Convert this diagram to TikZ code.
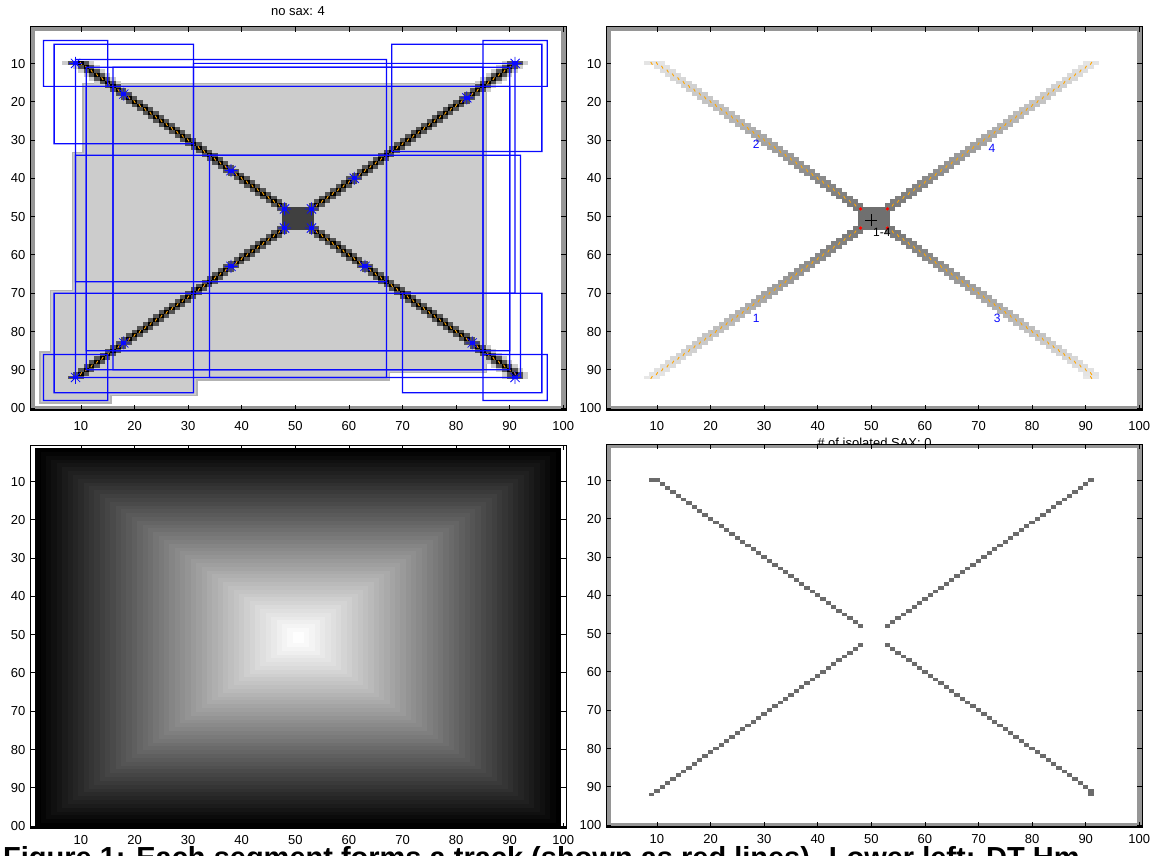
\documentclass[tikz,border=0pt]{standalone}
\usepackage{fontspec}
\setmainfont{Liberation Sans}
\definecolor{bandgray}{HTML}{555555}
\definecolor{regiongray}{HTML}{CCCCCC}
\definecolor{regionedge}{HTML}{B3B3B3}
\definecolor{bordergray}{HTML}{969696}
\definecolor{pixgray}{HTML}{6B6B6B}
\definecolor{mblue}{RGB}{10,10,255}
\definecolor{morange}{HTML}{FFA500}
\definecolor{ctrTL}{HTML}{404040}
\definecolor{ctrTR}{HTML}{707070}
\newcommand{\allpix}[1]{%
  \def\dd{1}\def\xc{9}\def\yr{10}#1%
  \foreach \yr in {10,...,48}{\let\xc\yr\def\dd{1}#1}%
  \foreach \yr in {10,...,48}{\pgfmathtruncatemacro{\xc}{101-\yr}\def\dd{-1}#1}%
  \foreach \yr in {53,...,92}{\pgfmathtruncatemacro{\xc}{101-\yr}\def\dd{-1}#1}%
  \foreach \yr in {53,...,91}{\let\xc\yr\def\dd{1}#1}%
  \def\dd{1}\def\xc{91}\def\yr{92}#1%
}
\newcommand{\axesticks}[3]{%
  \draw[frameline] (0.5,0.5) rectangle (100.5,100.5);
  \draw[line width=2.4pt] (0.5,100.5) -- (100.5,100.5);
  \foreach \k in {10,20,...,100}{
    \draw[tickline] (\k,0.5) -- (\k,1.8);
    \draw[tickline] (\k,100.5) -- (\k,99.2);
    \draw[tickline] (0.5,\k) -- (1.45,\k);
    \draw[tickline] (100.5,\k) -- (99.55,\k);
    \node[xlab, yshift=#3] (#1x\k) at (\k,100.5) {\k};
  }
  \foreach \k in {10,20,...,90}{\node[ylab] (#1y\k) at (0.5,\k) {\k};}
  \node[ylab] (#1y100) at (0.5,100) {#2};
}
\begin{document}
\begin{tikzpicture}[x=1pt,y=-1pt,
  lab/.style={font=\fontsize{13}{13}\selectfont, inner sep=0pt},
  ylab/.style={lab, anchor=base east, xshift=-4.5pt, yshift=-4.7pt},
  xlab/.style={lab, anchor=base},
  tickline/.style={line width=0.8pt},
  frameline/.style={draw=black, line width=1pt},
  omark/.style={draw=morange, line width=0.9pt},
  numlab/.style={font=\fontsize{12}{12}\selectfont, inner sep=0pt, text=mblue}]
\useasboundingbox (0,0) rectangle (1159,856);
\fill[white] (0,0) rectangle (1159,856);

% titles
\node[lab, anchor=base] (title1) at (298,16) {no sax: 4};
\node[lab, anchor=base] (title4) at (874.5,447) {\# of isolated SAX: 0};

% ---------------- top left ----------------
\begin{scope}[xshift=27.32pt,yshift=-25.085pt,x=5.36pt,y=-3.83pt]
  \fill[bordergray] (0.5,0.5) rectangle (100.5,100.5);
  \fill[white] (1.5,1.5) rectangle (99.5,99.5);
  \foreach \ra/\rb/\rc/\rd in {2.5/85.5/15.5/98.5, 4.5/69.5/31.5/96.5, 8.5/33.5/67.5/92.5, 10.5/15.5/85.5/90.5}
    \fill[regionedge] (\ra-0.25,\rb-0.35) rectangle (\rc+0.25,\rd+0.35);
  \foreach \ra/\rb/\rc/\rd in {2.5/85.5/15.5/98.5, 4.5/69.5/31.5/96.5, 8.5/33.5/67.5/92.5, 10.5/15.5/85.5/90.5}
    \fill[regiongray] (\ra,\rb) rectangle (\rc,\rd);
  \allpix{\fill[regiongray] (\xc-2.5,\yr-0.5) rectangle (\xc+2.5,\yr+0.5);}
  \allpix{\fill[bandgray] (\xc-1.5,\yr-0.5) rectangle (\xc+1.5,\yr+0.5);}
  \fill[ctrTL] (47.5,47.5) rectangle (53.5,53.5);
  \allpix{\fill[black] (\xc-0.5,\yr-0.5) rectangle (\xc+0.5,\yr+0.5);}
  \allpix{\draw[omark] (\xc-0.15*\dd,\yr-0.35) -- (\xc+0.15*\dd,\yr+0.35);}
  % blue boxes as filled frames
  \foreach \ra/\rb/\rc/\rd in {3/4/15/16, 85/4/97/16, 3/86/15/98, 85/86/97/98, 5/5/31/31, 68/5/96/33, 5/70/31/96, 70/70/96/96, 9/9/67/67, 31/10/91/70, 9/34/67/92, 34/34/92/92, 11/11/85/85, 16/11/90/85, 11/16/85/90, 16/16/90/90}
    \fill[mblue, even odd rule] (\ra-0.12,\rb-0.16) rectangle (\rc+0.12,\rd+0.16)
                                (\ra+0.12,\rb+0.16) rectangle (\rc-0.12,\rd-0.16);
  \foreach \p/\q in {9/10,18/18,38/38,48/48,91/10,82/19,61/40,53/48,9/92,18/83,38/63,48/53,91/92,83/83,63/63,53/53}{
    \fill[mblue] (\p-0.5,\q-0.5) rectangle (\p+0.5,\q+0.5);
    \draw[mblue, line width=0.8pt]
      (\p,\q) ++(-6.5pt,0pt) -- ++(13pt,0pt)
      (\p,\q) ++(0pt,-6.5pt) -- ++(0pt,13pt)
      (\p,\q) ++(-4.6pt,-4.6pt) -- ++(9.2pt,9.2pt)
      (\p,\q) ++(-4.6pt,4.6pt) -- ++(9.2pt,-9.2pt);
  }
  \axesticks{tl}{00}{-20pt}
\end{scope}

% ---------------- top right ----------------
\begin{scope}[xshift=603.32pt,yshift=-25.085pt,x=5.36pt,y=-3.83pt]
  \fill[bordergray] (0.5,0.5) rectangle (100.5,100.5);
  \fill[white] (1.5,1.5) rectangle (99.5,99.5);
  \allpix{\pgfmathsetmacro{\wl}{46+44*(abs(\yr-50.5)/41)^1.2}\fill[white!\wl!black] (\xc-1.5,\yr-0.5) rectangle (\xc+1.5,\yr+0.5);}
  \fill[ctrTR] (47.5,47.5) rectangle (53.5,53.5);
  \allpix{\draw[omark] (\xc-0.15*\dd,\yr-0.35) -- (\xc+0.15*\dd,\yr+0.35);}
  \foreach \p/\q in {48/48,53/48,48/53,53/53}
    \fill[red] (\p,\q) circle[radius=1.8pt];
  \draw[black, line width=1.2pt] (50,51) ++(-6pt,0pt) -- ++(12pt,0pt) (50,51) ++(0pt,-6pt) -- ++(0pt,12pt);
  \node[lab, font=\fontsize{12}{12}\selectfont, anchor=west] (trc) at (50.3,54.2) {1-4};
  \node[numlab] (tr2) at (28.5,31.2) {2};
  \node[numlab] (tr4) at (72.5,32.3) {4};
  \node[numlab] (tr1) at (28.5,76.5) {1};
  \node[numlab] (tr3) at (73.5,76.5) {3};
  \axesticks{tr}{100}{-20pt}
\end{scope}

% ---------------- bottom left ----------------
\begin{scope}[xshift=27.32pt,yshift=-443.085pt,x=5.36pt,y=-3.83pt]
  \fill[white] (0.5,0.5) rectangle (100.5,100.5);
  \foreach \k in {0,...,48}{
    \pgfmathsetmacro{\wl}{min(100,\k*2.08)}
    \fill[white!\wl!black] (1.5+\k,1.3+\k) rectangle (99.6-\k,100.2-\k);
  }
  \axesticks{bl}{00}{-16pt}
\end{scope}

% ---------------- bottom right ----------------
\begin{scope}[xshift=603.32pt,yshift=-442.085pt,x=5.36pt,y=-3.83pt]
  \fill[bordergray] (0.5,0.5) rectangle (100.5,100.5);
  \fill[white] (1.5,1.5) rectangle (99.5,99.5);
  \allpix{\fill[pixgray] (\xc-0.5,\yr-0.5) rectangle (\xc+0.5,\yr+0.5);}
  \axesticks{br}{100}{-16pt}
\end{scope}

% caption
\node[anchor=base west, inner sep=0pt, font=\fontsize{29}{29}\selectfont\bfseries] (cap) at (3,867)
  {Figure 1: Each segment forms a track (shown as red lines). Lower left: DT Hm};
\end{tikzpicture}
\end{document}
